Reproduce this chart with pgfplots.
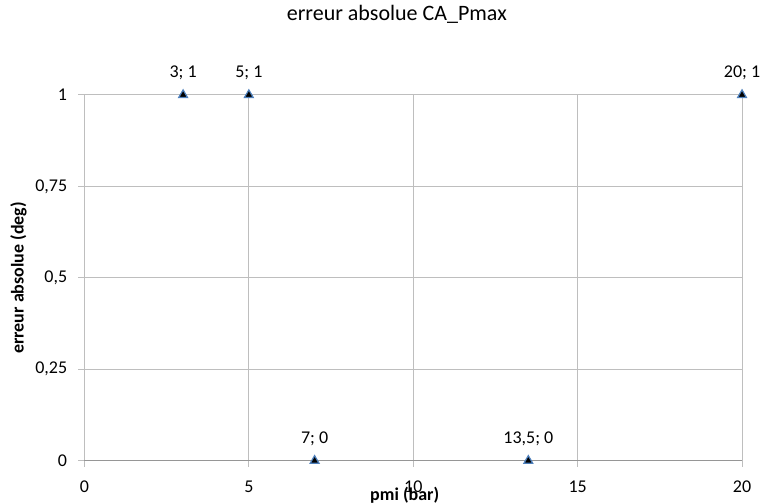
\documentclass[border=0pt]{standalone}
\usepackage{pgfplots}
\pgfplotsset{compat=1.18}
\usepackage{fontspec}
\setmainfont{Carlito}
\protected\def\semi{\char59\relax}
\definecolor{gridc}{RGB}{190,190,190}
\definecolor{axc}{RGB}{150,150,150}
\definecolor{mk}{RGB}{79,129,189}
\begin{document}
\begin{tikzpicture}
\begin{axis}[
  scale only axis, width=493.5pt, height=274.5pt,
  xmin=0, xmax=20, ymin=0, ymax=1,
  xtick={0,5,10,15,20}, ytick={0,0.25,0.5,0.75,1},
  grid=major, major grid style={gridc, line width=0.75pt, shorten <=-4.5pt},
  axis line style={draw=none},
  tick pos=left, tick align=outside, major tick length=4.5pt,
  major tick style={draw=gridc, line width=0.75pt},
  clip=false,
  /pgf/number format/use comma,
  /pgf/number format/assume math mode=true,
  tick label style={font=\fontsize{13.5}{16}\selectfont},
  xticklabel style={yshift=-7pt},
  yticklabel style={xshift=-5pt},
  title={erreur absolue CA\_Pmax},
  title style={font=\fontsize{16.5}{20}\selectfont, at={(axis description cs:0.475,1)}, anchor=center, yshift=54.75pt},
  xlabel={pmi (bar)},
  xlabel style={font=\bfseries\fontsize{13.5}{16}\selectfont, at={(axis description cs:0.487,0)}, anchor=north, yshift=-16pt},
  ylabel={erreur absolue (deg)},
  ylabel style={font=\bfseries\fontsize{13.5}{16}\selectfont, at={(axis description cs:0,0.5)}, anchor=center, yshift=49.5pt},
]
\draw[axc, line width=0.75pt] (axis cs:0,0) -- (axis cs:20,0);
\addplot[only marks, mark=triangle*, mark size=3.8pt,
  mark options={fill=black, draw=mk, line width=0.9pt},
  point meta=explicit symbolic,
  nodes near coords={\pgfplotspointmeta},
  every node near coord/.append style={anchor=base, yshift=12.75pt, inner sep=0pt, font=\fontsize{13.5}{16}\selectfont, black}]
table[x=x, y=y, meta=lab] {
x y lab
3 1 {3\semi\ 1}
5 1 {5\semi\ 1}
7 0 {7\semi\ 0}
13.5 0 {13,5\semi\ 0}
20 1 {20\semi\ 1}
};
\coordinate (bl) at (rel axis cs:0,0);
\coordinate (tr) at (rel axis cs:1,1);
\end{axis}
\pgfresetboundingbox
\path ([xshift=-63.4pt,yshift=-32.25pt]bl) rectangle ([xshift=15pt,yshift=71.25pt]tr);
\end{tikzpicture}
\end{document}
